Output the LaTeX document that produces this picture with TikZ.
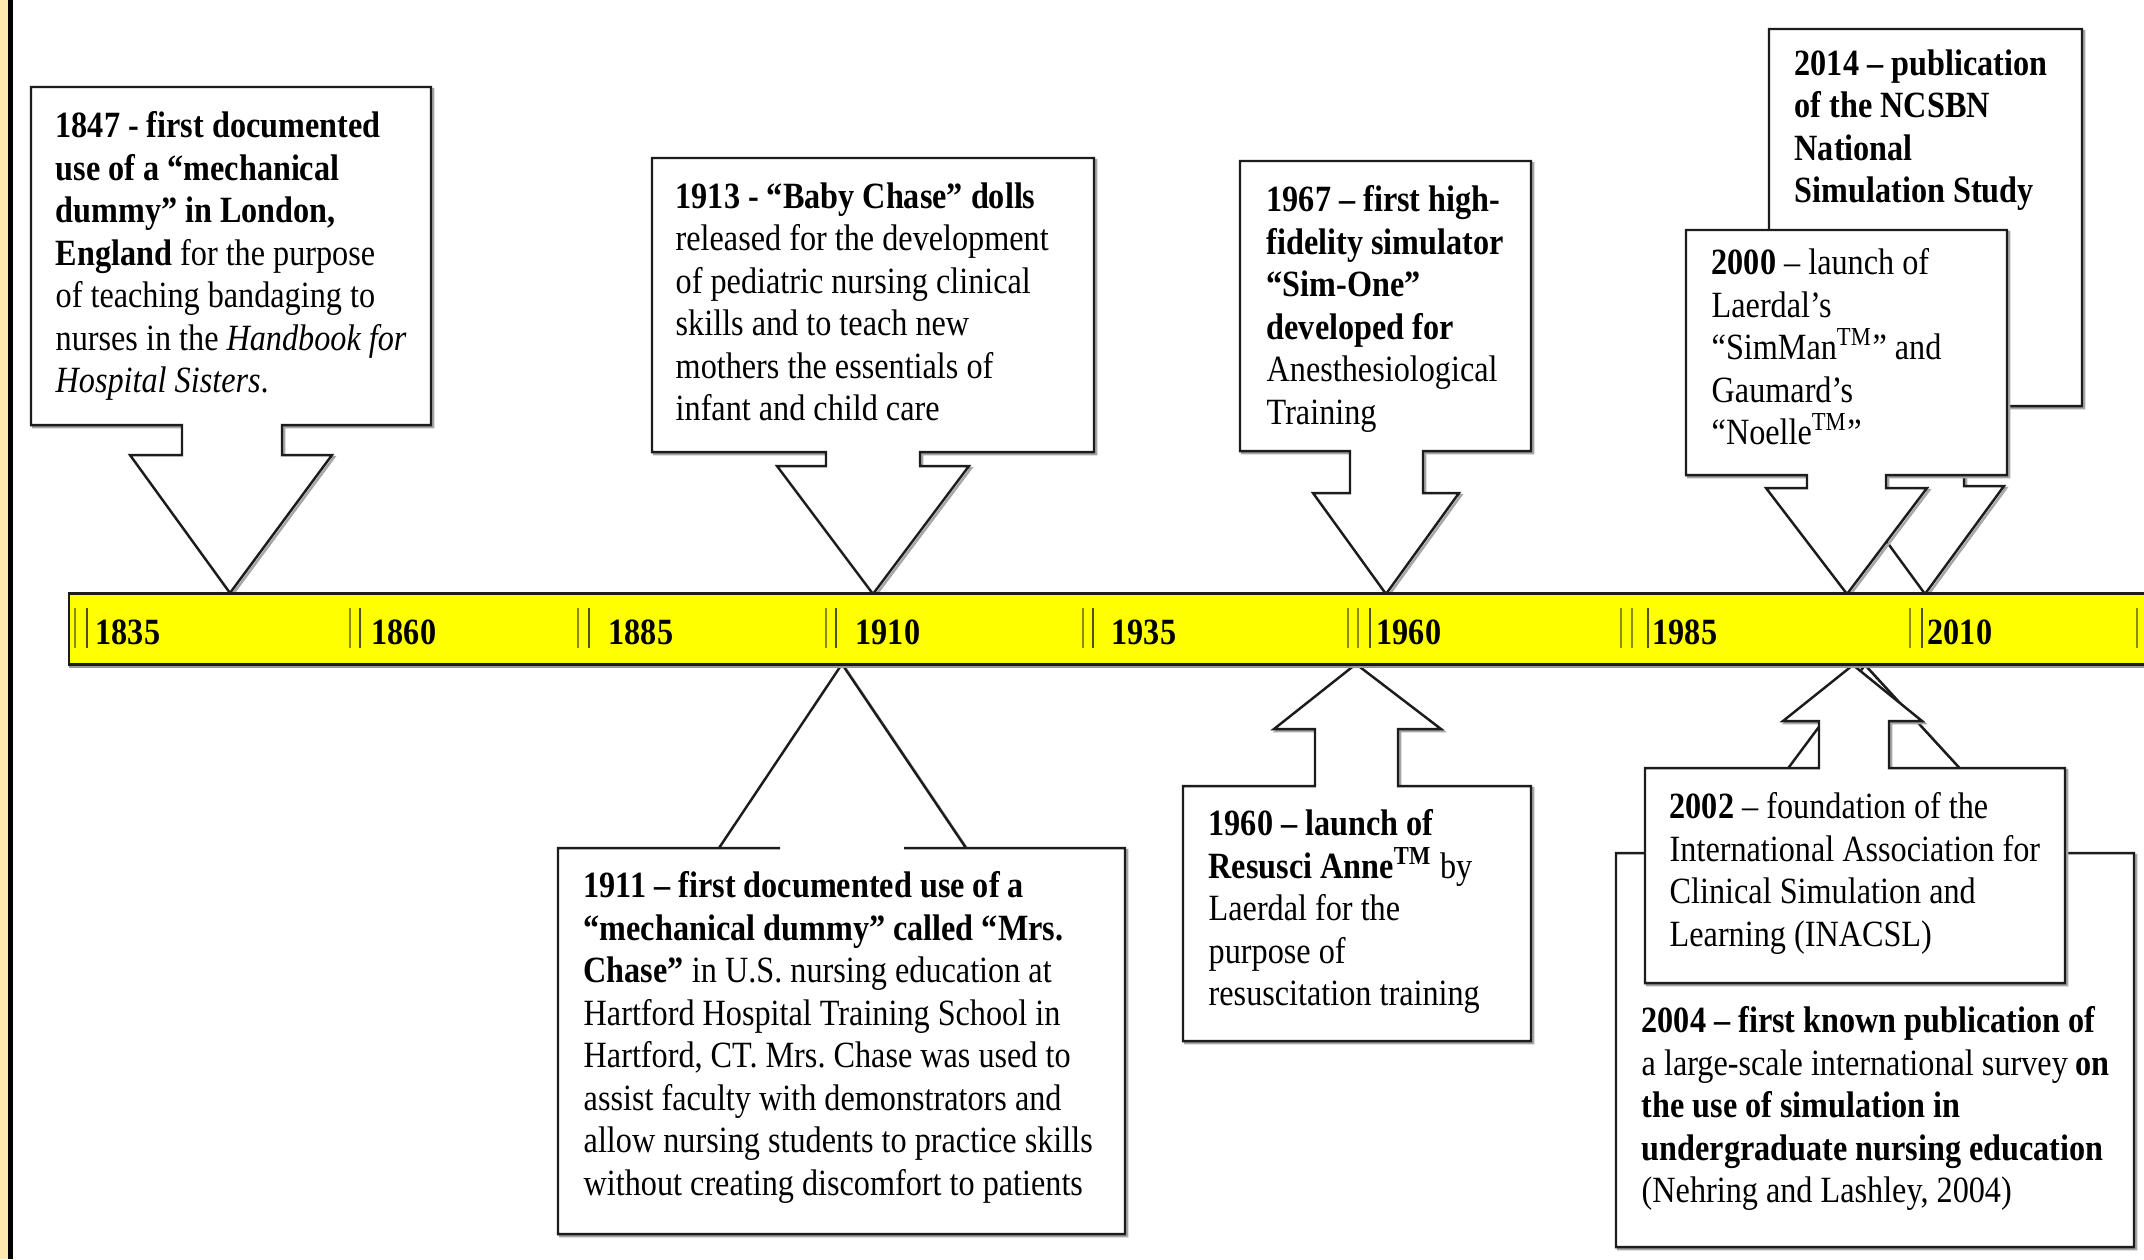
\documentclass[tikz,border=0pt]{standalone}
\usepackage{fontspec}
\setmainfont{Liberation Serif}[FakeStretch=0.87]
\definecolor{tanstrip}{HTML}{FFE9AE}
\definecolor{edgecol}{HTML}{1C1C1C}
\definecolor{ticka}{HTML}{8C8C10}
\definecolor{tickb}{HTML}{505020}
\definecolor{baryellow}{HTML}{FFFF00}
\newcommand\boxfont{\fontsize{10.53pt}{12.09pt}\selectfont}
\begin{document}
\begin{tikzpicture}[x=0.01cm,y=-0.01cm,
  shapeline/.style={draw=edgecol, line width=0.7pt, fill=white, line join=miter,
    preaction={draw=black!35, line width=0.7pt, transform canvas={shift={(0.6pt,-0.6pt)}}}},
  barstyle/.style={draw=edgecol, line width=0.85pt, fill=baryellow,
    preaction={draw=black!40, line width=0.8pt, transform canvas={shift={(0.5pt,-0.6pt)}}}},
  txt/.style={anchor=north west, inner sep=0pt, align=left, font=\boxfont, execute at begin node=\strut},
  yearlbl/.style={anchor=base west, inner sep=0pt, font=\boxfont\bfseries},
  tA/.style={draw=ticka, line width=0.8pt},
  tB/.style={draw=tickb, line width=0.45pt},
]
\useasboundingbox (0,0) rectangle (2144,1259);
\fill[white] (0,0) rectangle (2144,1259);
\fill[tanstrip] (0,0) rectangle (8,1259);
\fill[black] (8,0) rectangle (13,1259);

% tips on the time line
\coordinate (t1847) at (230,593);
\coordinate (t1913) at (873,594);
\coordinate (t1967) at (1386,594);
\coordinate (t2014) at (1925,594);
\coordinate (t2000) at (1847,594);
\coordinate (t1911) at (842,664);
\coordinate (t1960) at (1356,664);
\coordinate (t2004) at (1865,665);
\coordinate (t2002) at (1853,665);

% 1847
\path[shapeline] (31,87) -- (431,87) -- (431,425) -- (282,425) -- (282,455) -- (332,455) -- (t1847) -- (130,455) -- (182,455) -- (182,425) -- (31,425) -- cycle;
\node[txt] (n1847) at (55,111) {\textbf{1847 - first documented}\\ \textbf{use of a “mechanical}\\ \textbf{dummy” in London,}\\ \textbf{England} for the purpose\\ of teaching bandaging to\\ nurses in the \textit{Handbook for}\\ \textit{Hospital Sisters}.};

% 1913
\path[shapeline] (652,158) -- (1094,158) -- (1094,452) -- (920,452) -- (920,466) -- (969,466) -- (t1913) -- (777,466) -- (826,466) -- (826,452) -- (652,452) -- cycle;
\node[txt] (n1913) at (675,182) {\textbf{1913 - “Baby Chase” dolls}\\ released for the development\\ of pediatric nursing clinical\\ skills and to teach new\\ mothers the essentials of\\ infant and child care};

% 1967
\path[shapeline] (1240,161) -- (1531,161) -- (1531,451) -- (1423,451) -- (1423,493) -- (1459,493) -- (t1967) -- (1313,493) -- (1350,493) -- (1350,451) -- (1240,451) -- cycle;
\node[txt] (n1967) at (1266,185) {\textbf{1967 – first high-}\\ \textbf{fidelity simulator}\\ \textbf{“Sim-One”}\\ \textbf{developed for}\\ Anesthesiological\\ Training};

% 2014
\path[shapeline] (1769,29) -- (2082,29) -- (2082,406) -- (1964,406) -- (1964,486) -- (2004,486) -- (t2014) -- (1846,486) -- (1886,486) -- (1886,406) -- (1769,406) -- cycle;
\node[txt] (n2014) at (1794,49) {\textbf{2014 – publication}\\ \textbf{of the NCSBN}\\ \textbf{National}\\ \textbf{Simulation Study}};

% 2000
\path[shapeline] (1686,230) -- (2007,230) -- (2007,475) -- (1886,475) -- (1886,488) -- (1927,488) -- (t2000) -- (1766,488) -- (1807,488) -- (1807,475) -- (1686,475) -- cycle;
\node[txt] (n2000) at (1711,248) {\textbf{2000} – launch of\\ Laerdal’s\\ “SimMan\textsuperscript{TM}” and\\ Gaumard’s\\ “Noelle\textsuperscript{TM}”};

% 1911
\path[shapeline] (558,1234) -- (1125,1234) -- (1125,848) -- (904,848) -- (966,848) -- (t1911) -- (719,848) -- (780,848) -- (558,848) -- cycle;
\node[txt] (n1911) at (583,871) {\textbf{1911 – first documented use of a}\\ \textbf{“mechanical dummy” called “Mrs.}\\ \textbf{Chase”} in U.S. nursing education at\\ Hartford Hospital Training School in\\ Hartford, CT. Mrs.\ Chase was used to\\ assist faculty with demonstrators and\\ allow nursing students to practice skills\\ without creating discomfort to patients};

% 1960
\path[shapeline] (1183,1041) -- (1531,1041) -- (1531,786) -- (1398,786) -- (1398,729) -- (1441,729) -- (t1960) -- (1274,729) -- (1315,729) -- (1315,786) -- (1183,786) -- cycle;
\node[txt] (n1960) at (1208,809) {\textbf{1960 – launch of}\\ \textbf{Resusci Anne\textsuperscript{TM}} by\\ Laerdal for the\\ purpose of\\ resuscitation training};

% 2004
\path[shapeline] (1616,1247) -- (2134,1247) -- (2134,853) -- (1950,853) -- (1950,810) -- (1998,810) -- (t2004) -- (1757,810) -- (1800,810) -- (1800,853) -- (1616,853) -- cycle;
\node[txt] (n2004) at (1641,1006) {\textbf{2004 – first known publication of}\\ a large-scale international survey \textbf{on}\\ \textbf{the use of simulation in}\\ \textbf{undergraduate nursing education}\\ (Nehring and Lashley, 2004)};

% 2002
\path[shapeline] (1645,983) -- (2065,983) -- (2065,768) -- (1889,768) -- (1889,721) -- (1922,721) -- (t2002) -- (1783,721) -- (1819,721) -- (1819,768) -- (1645,768) -- cycle;
\node[txt] (n2002) at (1669,792) {\textbf{2002} – foundation of the\\ International Association for\\ Clinical Simulation and\\ Learning (INACSL)};

% time line bar
\path[barstyle] (69,593) rectangle (2152,664);
\foreach \x in {75,350,578,826,1083,1348,1358,1621,1632,1910,2137} \draw[tA] (\x,608) -- (\x,648);
\foreach \x in {87,360,589,836,1093,1370,1648,1922} \draw[tB] (\x,608) -- (\x,648);
\node[yearlbl] (y1835) at (95,644) {1835};
\node[yearlbl] (y1860) at (371,644) {1860};
\node[yearlbl] (y1885) at (608,644) {1885};
\node[yearlbl] (y1910) at (855,644) {1910};
\node[yearlbl] (y1935) at (1111,644) {1935};
\node[yearlbl] (y1960) at (1376,644) {1960};
\node[yearlbl] (y1985) at (1652,644) {1985};
\node[yearlbl] (y2010) at (1927,644) {2010};
\end{tikzpicture}
\end{document}
